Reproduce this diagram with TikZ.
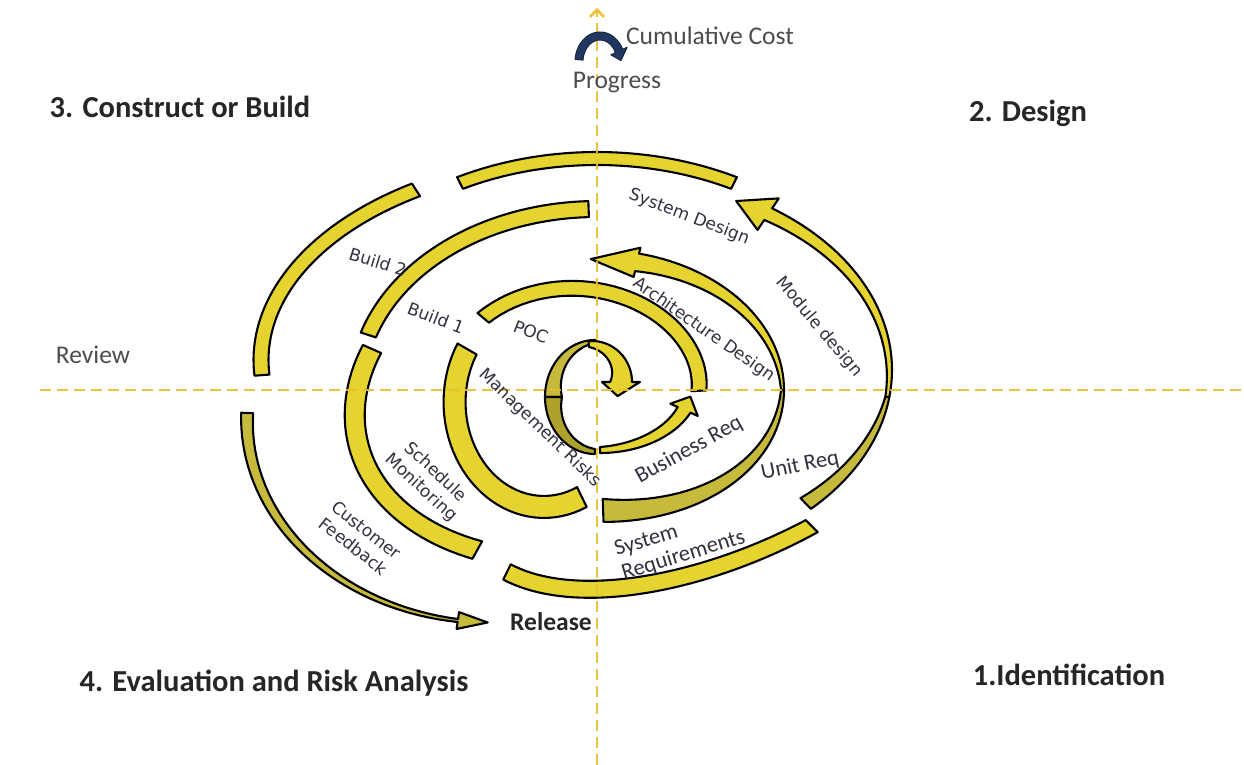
\documentclass[tikz,border=0pt]{standalone}
\usepackage{xcolor}
\usepackage{fontspec}
\setmainfont{Carlito}
\newfontfamily\dejavu{DejaVu Sans}
\usepackage{tikz}
\usetikzlibrary{arrows.meta, calc}

\definecolor{ribyellow}{RGB}{229,211,48}
\definecolor{ribolive}{RGB}{198,186,60}
\definecolor{ribdark}{RGB}{172,162,44}
\definecolor{axisgold}{RGB}{234,190,44}
\definecolor{archblue}{RGB}{32,56,96}
\definecolor{labelgray}{RGB}{48,50,64}

\begin{document}
\begin{tikzpicture}[x=1pt, y=1pt, every node/.style={inner sep=0pt},
		ribbon/.style={draw=black, line width=2.1pt, line join=round, fill=ribyellow},
		axisline/.style={draw=axisgold, line width=2.8pt, dash pattern=on 11pt off 6pt, opacity=0.9},
		quad/.style={font=\fontsize{30.5}{36}\selectfont\bfseries, text=black!85},
		axlbl/.style={font=\fontsize{25.5}{30}\selectfont, text=black!70},
		lbl/.style={font=\dejavu\fontsize{17}{21}\selectfont, text=labelgray, align=center},
		clbl/.style={font=\fontsize{22.5}{25}\selectfont, text=labelgray, align=left},
		declare function={bpos(\x)=(\x-\ta)/(\tb-\ta);
			bxr(\x)=\rxa+(\rxb-\rxa)*bpos(\x);
			byr(\x)=\rya+(\ryb-\rya)*bpos(\x);
			bwd(\x)=\wa+(\wb-\wa)*bpos(\x);}]
		
		%//origin where the two axes cross
		\useasboundingbox (-597,-375) rectangle (647,390);
		\fill[white] (-597,-375) rectangle (647,390);
		
		%//one ribbon: angles, outer radii at start and end, width at start and end
		\def\band#1#2#3#4#5#6#7#8#9{%
			\def\ta{#2}\def\tb{#3}\def\rxa{#4}\def\rya{#5}\def\rxb{#6}\def\ryb{#7}\def\wa{#8}\def\wb{#9}%
			\filldraw[ribbon, #1] plot[domain=\ta:\tb, samples=40, variable=\t] (\t:{bxr(\t)} and {byr(\t)})
			-- (\tb:{\rxb+\hw} and {\ryb+\hw})
			-- ({\tb+(\hl)}:{\rxb-\wb/2} and {\ryb-\wb/2})
			-- (\tb:{\rxb-\wb-\hw} and {\ryb-\wb-\hw})
			-- plot[domain=\tb:\ta, samples=40, variable=\t] (\t:{bxr(\t)-bwd(\t)} and {byr(\t)-bwd(\t)})
			-- cycle;}
		
		%//outer turn
		\def\hw{0}\def\hl{0}
		\band{}{116.6}{63.4}{312.5}{238}{312.5}{238}{13}{13}
		\band{shift={(0,30)}}{122.6}{184.3}{343.5}{209.5}{343.5}{209.5}{15}{15}
		\band{shift={(-10,-30)}}{156.2}{240.8}{245}{186}{235}{159}{20}{20}
		\band{}{92}{162.3}{248}{189}{248}{189}{16}{16}
		\band{shift={(3,0)}}{243.7}{315}{218.5}{211.5}{308}{201}{17}{17}
		
		\def\hw{7}\def\hl{7}
		\band{fill=ribolive, shift={(-105,-30)}}{178}{262}{251}{208}{247}{204}{12}{3}
		
		\def\hw{0}\def\hl{0}
		\band{fill=ribolive, shift={(23,20)}}{-45.4}{-8}{272}{195}{272}{195}{15}{4}
		\def\hw{12}\def\hl{8}
		\band{shift={(23,20)}}{-8}{56}{272}{195}{272}{195}{4}{14}
		
		%//inner turns
		\def\hw{0}\def\hl{0}
		\band{shift={(-5,-5)}}{140}{3}{149.5}{127.5}{114.5}{87.5}{15}{15}
		\band{shift={(-55,-10)}}{150}{296}{97.5}{113}{102}{119}{22}{22}
		\band{fill=ribolive}{272}{360}{187}{132}{187}{140}{23}{3}
		\def\hw{6}\def\hl{15}
		\band{}{0}{77}{187}{140}{187}{140}{3}{18}
		
		%//centre
		\def\hw{0}\def\hl{0}
		\band{fill=ribolive, shift={(-2,-7)}}{90}{180}{50}{57}{50}{57}{3}{17}
		\band{fill=ribdark, shift={(-2,-7)}}{180}{270}{50}{57}{50}{57}{17}{5}
		\def\hw{8}\def\hl{-28}
		\band{shift={(-5,8)}}{95}{0}{40}{41}{40}{41}{6}{22}
		\def\hw{8}\def\hl{13}
		\band{shift={(3,5)}}{270}{336}{99}{68}{99}{68}{6}{14}
		
		%//axes
		\draw[axisline] (-557,0) -- (647,0);
		\draw[axisline, -{Straight Barb[length=7pt, width=14pt]}] (0,-375) -- (0,382);
		
		\def\hw{5}\def\hl{-22}
		\band{fill=archblue, draw=archblue!70!black, line width=1pt, shift={(3,328)}}{175}{25}{25}{30}{25}{30}{8}{8}
		
		\node[axlbl] (cumcost) at (113,354) {Cumulative Cost};
		\node[axlbl] (progress) at (20,307) {Progress};
		\node[axlbl] (review) at (-504,35) {Review};
		
		\node[quad] (construct) at (-417,283) {3. Construct or Build};
		\node[quad] (design) at (431,277) {2. Design};
		\node[quad] (evaluation) at (-323,-293) {4. Evaluation and Risk Analysis};
		\node[quad] (identification) at (472,-285) {1.Identification};
		\node[quad, font=\fontsize{25.5}{30}\selectfont\bfseries] (release) at (-46,-232) {Release};
		
		\node[lbl, rotate=-17] (build2) at (-219,128) {Build 2};
		\node[lbl, rotate=-21] (build1) at (-161,72) {Build 1};
		\node[lbl, rotate=-22] (poc) at (-66,58) {POC};
		\node[lbl, rotate=-44] (mgmt) at (-57,-38) {Management Risks};
		\node[lbl, rotate=-43] (schedmon) at (-169,-90) {Schedule\\Monitoring};
		\node[lbl, rotate=-38] (custfeed) at (-237,-148) {Customer\\Feedback};
		\node[lbl, rotate=-21] (sysdesign) at (92,173) {System Design};
		\node[lbl, rotate=-35] (archdesign) at (107,60) {Architecture Design};
		\node[lbl, rotate=-50] (moddesign) at (222,63) {Module design};
		
		\node[clbl, rotate=29] (busreq) at (92,-60) {Business Req};
		\node[clbl, rotate=12] (unitreq) at (203,-76) {Unit Req};
		\node[clbl, rotate=17] (sysreq) at (83,-154) {System\\Requirements};
		
\end{tikzpicture}
\end{document}
